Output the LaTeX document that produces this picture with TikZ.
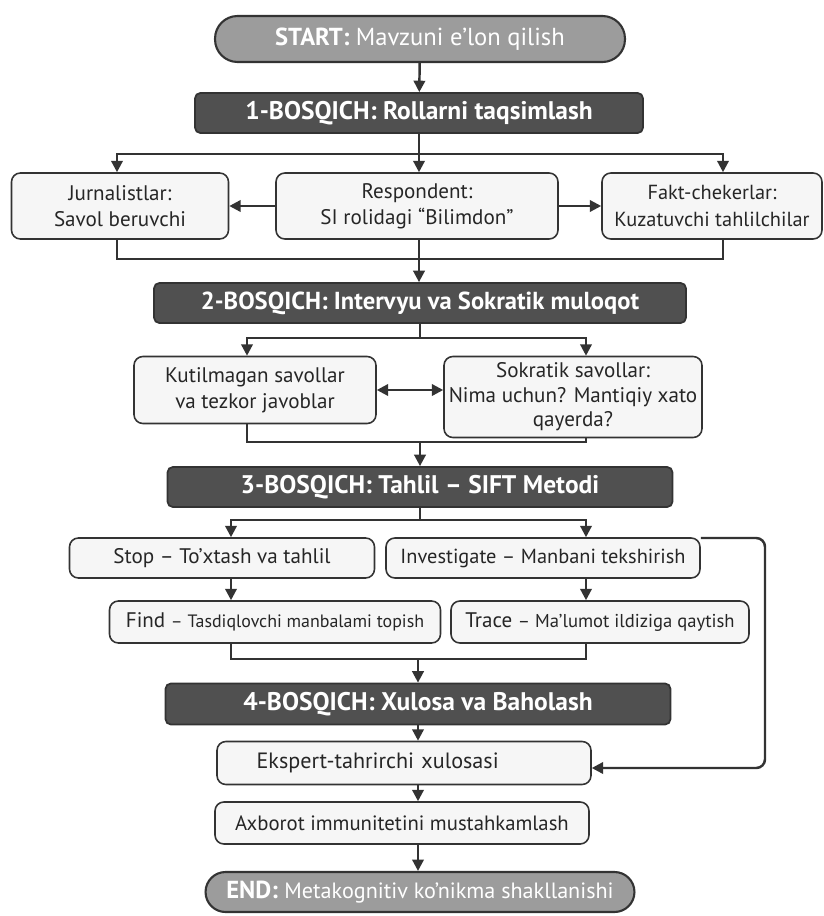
\documentclass[tikz,border=0pt]{standalone}
\usepackage{fontspec}
\setmainfont{PT Sans}
\usetikzlibrary{arrows.meta}
\usetikzlibrary{calc}

\definecolor{pillgray}{HTML}{9C9C9C}
\definecolor{stagegray}{HTML}{505050}
\definecolor{boxfill}{HTML}{F6F6F6}
\definecolor{edgegray}{HTML}{333333}

\begin{document}
\begin{tikzpicture}[x=0.02cm, y=-0.02cm]
            \tikzstyle{pill} = [draw=edgegray, line width=1.2pt, fill=pillgray, rounded corners=0.45cm, text=white, font=\fontsize{14}{16}\selectfont]
            \tikzstyle{stage} = [draw=edgegray, line width=1pt, fill=stagegray, rounded corners=3pt, text=white, font=\fontsize{14.5}{16}\selectfont\bfseries, minimum height=0.8cm]
            \tikzstyle{card} = [draw=edgegray, line width=0.9pt, fill=boxfill, rounded corners=5pt, align=center, text=black!85, font=\fontsize{12}{15}\selectfont, inner sep=2pt]
            \tikzstyle{link} = [draw=edgegray, line width=1.4pt]
            \tikzstyle{arr} = [link, -{Triangle[length=6.5pt, width=6.5pt]}]
            \useasboundingbox (0, 0) rectangle (824, 916);
            \fill[white] (0, 0) rectangle (824, 916);
            % start and stage 1
            \node[pill, minimum width=8.2cm, minimum height=0.92cm] (start) at (420, 39) {\textbf{START:} Mavzuni e’lon qilish};
            \node[stage, minimum width=8.96cm] (s1) at (419, 113) {1-BOSQICH: Rollarni taqsimlash};
            \node[card, minimum width=4.34cm, minimum height=1.32cm] (jour) at (120, 206) {Jurnalistlar:\\Savol beruvchi};
            \node[card, minimum width=5.64cm, minimum height=1.32cm] (resp) at (417, 206) {Respondent:\\SI rolidagi “Bilimdon”};
            \node[card, minimum width=4.4cm, minimum height=1.32cm, font=\fontsize{11.6}{15}\selectfont] (fakt) at (712, 206) {Fakt-chekerlar:\\Kuzatuvchi tahlilchilar};
            \draw[arr] (start) -- (s1);
            \coordinate (b1) at (419, 154);
            \coordinate (l1) at (117, 0);
            \coordinate (r1) at (723, 0);
            \draw[link] (s1) -- (b1);
            \draw[arr] (b1) -| (l1 |- jour.north);
            \draw[arr] (b1) -| (r1 |- fakt.north);
            \draw[arr] (b1) -- (b1 |- resp.north);
            \draw[arr] (resp.west) -- (jour.east);
            \draw[arr] (resp.east) -- (fakt.west);
            % stage 2
            \node[stage, minimum width=10.64cm, font=\fontsize{14}{16}\selectfont\bfseries] (s2) at (420, 303) {2-BOSQICH: Intervyu va Sokratik muloqot};
            \node[card, minimum width=4.84cm, minimum height=1.34cm] (kut) at (255, 390) {Kutilmagan savollar\\va tezkor javoblar};
            \node[card, minimum width=5.16cm, minimum height=1.62cm, font=\fontsize{12}{14}\selectfont] (sok) at (573, 397) {Sokratik savollar:\\Nima uchun? Mantiqiy xato\\qayerda?};
            \coordinate (m1) at (419, 259);
            \draw[link] (l1 |- jour.south) |- (m1) -| (r1 |- fakt.south);
            \draw[arr] (b1 |- resp.south) -- (b1 |- s2.north);
            \coordinate (b2) at (420, 338);
            \coordinate (l2) at (247, 0);
            \coordinate (r2) at (586, 0);
            \draw[link] (s2) -- (b2);
            \draw[arr] (b2) -| (l2 |- kut.north);
            \draw[arr] (b2) -| (r2 |- sok.north);
            \draw[{Triangle[length=6.5pt, width=6.5pt]}-{Triangle[length=6.5pt, width=6.5pt]}, link] (kut.east) -- (kut.east -| sok.west);
            % stage 3
            \node[stage, minimum width=10.1cm] (s3) at (420, 487) {3-BOSQICH: Tahlil – SIFT Metodi};
            \coordinate (m2) at (420, 442);
            \draw[link] (l2 |- kut.south) |- (m2) -| (r2 |- sok.south);
            \draw[arr] (m2) -- (s3);
            \node[card, minimum width=6.1cm, minimum height=0.8cm] (stop) at (222, 558) {Stop – To’xtash va tahlil};
            \node[card, minimum width=6.28cm, minimum height=0.8cm, font=\fontsize{11.6}{14}\selectfont] (inv) at (543, 558) {Investigate – Manbani tekshirish};
            \node[card, minimum width=6.62cm, minimum height=0.84cm] (find) at (275, 622) {Find {\fontsize{10.2}{12}\selectfont – Tasdiqlovchi manbalami topish}};
            \node[card, minimum width=5.96cm, minimum height=0.84cm] (trace) at (600, 622) {Trace {\fontsize{10.6}{12}\selectfont – Ma’lumot ildiziga qaytish}};
            \coordinate (b3) at (420, 520);
            \coordinate (l3) at (231, 0);
            \coordinate (r3) at (586, 0);
            \draw[link] (s3) -- (b3);
            \draw[arr] (b3) -| (l3 |- stop.north);
            \draw[arr] (b3) -| (r3 |- inv.north);
            \draw[arr] (l3 |- stop.south) -- (l3 |- find.north);
            \draw[arr] (r3 |- inv.south) -- (r3 |- trace.north);
            % stage 4
            \node[stage, minimum width=10.1cm, minimum height=0.82cm] (s4) at (418, 704) {4-BOSQICH: Xulosa va Baholash};
            \coordinate (m3) at (418, 659);
            \draw[link] (l3 |- find.south) |- (m3) -| (r3 |- trace.south);
            \draw[arr] (m3) -- (s4);
            \node[card, minimum width=7.48cm, minimum height=0.86cm, text width=6.9cm, align=left, font=\fontsize{12.6}{15}\selectfont] (eks) at (404, 763) {\hspace{0.5cm}Ekspert-tahrirchi xulosasi};
            \node[card, minimum width=7.48cm, minimum height=0.84cm, font=\fontsize{11.8}{15}\selectfont] (axb) at (402, 823) {Axborot immunitetini mustahkamlash};
            \node[pill, minimum width=8.58cm, minimum height=0.8cm, rounded corners=0.4cm] (end) at (420, 892) {\textbf{END:} {\fontsize{12.6}{14}\selectfont Metakognitiv ko’nikma shakllanishi}};
            \draw[arr] (s4.south) -- (s4.south |- eks.north);
            \draw[arr] (s4.south |- eks.south) -- (s4.south |- axb.north);
            \draw[arr] (s4.south |- axb.south) -- (s4.south |- end.north);
            % feedback from investigate
            \coordinate (fb) at (765, 538);
            \draw[arr, rounded corners=5pt] (fb -| inv.north east) -- (fb) |- ($(eks.east)+(0, 5)$);
        \end{tikzpicture}
\end{document}
